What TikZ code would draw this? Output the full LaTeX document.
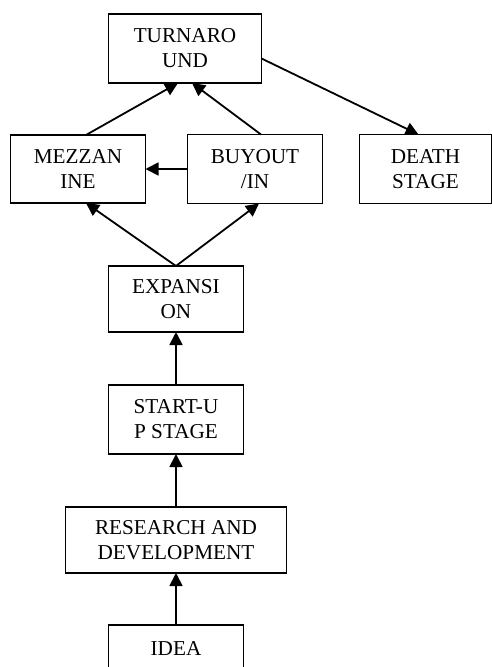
\documentclass[tikz,border=0pt]{standalone}
\usepackage{fontspec}
\setmainfont{Liberation Serif}
\usepackage{tikz}
\usetikzlibrary{positioning}
\usetikzlibrary{arrows.meta}

\begin{document}
\begin{tikzpicture} [>={Triangle[length=13pt,width=13pt]}, node distance = 53pt]
            % Set primary nodes
            \tikzset{
                stageNode/.style={
                        draw,
                        rectangle,
                        line width=1.8pt,
                        outer sep=0pt,
                        align=center,
                        minimum height=69pt,
                        minimum width=135pt,
                        font=\fontsize{21.2}{25}\selectfont
                    }
            }
            \tikzset{
                wideNode/.style={
                        stageNode,
                        minimum width=221pt,
                        minimum height=66pt
                    }
            }
            % Configure arrows
            \tikzset{arrow/.style={line width=1.8pt, ->}}
            \useasboundingbox (0,0) rectangle (492pt,-667pt);
            % Placing nodes
            \node[stageNode, minimum height=48pt] (idea) at (176pt,-649pt) {IDEA};
            \node[wideNode, above = 52pt of idea] (research) {RESEARCH AND\\DEVELOPMENT};
            \node[stageNode, above = of research] (startup) {START-U\\P STAGE};
            \node[stageNode, above = of startup, minimum height=66pt] (expansion) {EXPANSI\\ON};
            \node[stageNode, above = 63pt of expansion, xshift = -98pt, minimum height=68pt] (mezzanine) {MEZZAN\\INE};
            \node[stageNode, right = 42pt of mezzanine] (buyout) {BUYOUT\\/IN};
            \node[stageNode, right = 37pt of buyout, minimum width=132pt] (death) {DEATH\\STAGE};
            \node[stageNode, above = 52pt of mezzanine, xshift = 107pt, minimum width=153pt] (turnaround) {TURNARO\\UND};
            % Draw arrows
            \draw[arrow] (idea) -- (research);
            \draw[arrow] (research) -- (startup);
            \draw[arrow] (startup) -- (expansion);
            \draw[arrow] (expansion.north) -- ([xshift=8pt]mezzanine.south);
            \draw[arrow] (expansion.north) -- ([xshift=4pt]buyout.south);
            \draw[arrow] (buyout) -- (mezzanine);
            \draw[arrow] ([xshift=8pt]mezzanine.north) -- ([xshift=-7pt]turnaround.south);
            \draw[arrow] ([xshift=6pt]buyout.north) -- ([xshift=7pt]turnaround.south);
            \draw[arrow] ([yshift=-10pt]turnaround.east) -- ([xshift=-7pt]death.north);

\end{tikzpicture}
\end{document}
